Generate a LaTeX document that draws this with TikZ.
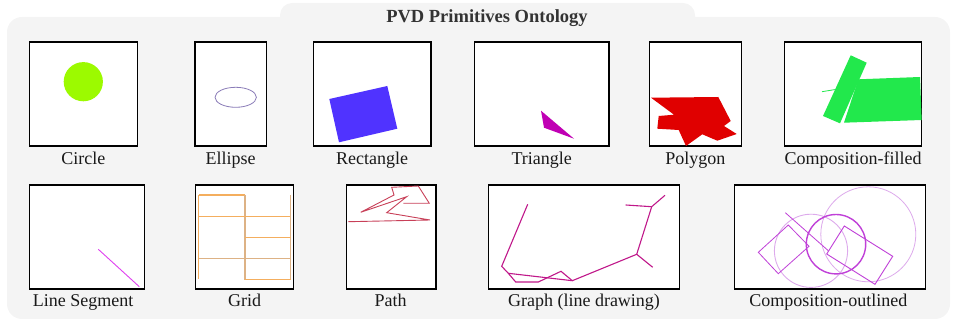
\documentclass[tikz,border=0pt]{standalone}
\usepackage{fontspec}
\setmainfont{Liberation Serif}
\definecolor{panelgray}{HTML}{F4F4F4}
\definecolor{titlegray}{HTML}{333333}
\definecolor{limec}{HTML}{9CFA00}
\definecolor{ellc}{HTML}{8A7CB8}
\definecolor{rectc}{HTML}{5033FF}
\definecolor{tric}{HTML}{C000B4}
\definecolor{polyc}{HTML}{E00000}
\definecolor{greenc}{HTML}{22E84C}
\definecolor{segc}{HTML}{E040F0}
\definecolor{pathc}{HTML}{C84058}
\definecolor{graphc}{HTML}{C0188A}
\definecolor{gridorange}{HTML}{F4AE5E}
\definecolor{gridtan}{HTML}{DDB285}
\definecolor{compc}{HTML}{C040D8}
\definecolor{faintc}{HTML}{DDAAEC}
\tikzset{
  framebox/.style={draw=black, line width=1.2pt, fill=white, inner sep=0pt},
  caption/.style={anchor=base, font=\fontsize{18}{20}\selectfont, text=black!90, inner sep=0pt},
  titletext/.style={anchor=base, font=\fontsize{18.5}{20}\selectfont\bfseries, text=titlegray, inner sep=0pt},
  gridline/.style={line width=1.5pt},
}
\newcommand{\framebx}[5]{% name, x1,y1,x2,y2
  \node[framebox, minimum width={(#4-#2)*1pt}, minimum height={(#5-#3)*1pt}] (#1) at ({(#2+#4)/2},{(#3+#5)/2}) {};}
\begin{document}
\begin{tikzpicture}[x=1pt,y=-1pt]
\useasboundingbox (0,0) rectangle (953,320);
% background panel with tab
\fill[panelgray, rounded corners=15pt] (7,17) rectangle (950,319);
\fill[panelgray, rounded corners=12pt] (280,3) rectangle (695,40);
\node[titletext] (title) at (487,22.7) {PVD Primitives Ontology};

% ---- row 1 ----
\framebx{bcircle}{29.3}{42}{137.3}{146}
\framebx{bellipse}{195}{42}{266.3}{146}
\framebx{brect}{313.3}{42}{431}{146}
\framebx{btri}{474.3}{42}{609}{146}
\framebx{bpoly}{649.3}{42}{741.3}{146}
\framebx{bcompf}{784.3}{42}{921.7}{146}

\fill[limec] (83.3,81.7) circle (19.6);
\draw[ellc, line width=0.8pt] (235.7,97.3) ellipse [x radius=20.7, y radius=10];
\fill[rectc] (329.3,99) -- (387.3,86) -- (397.3,128.7) -- (339,142.3) -- cycle;
\fill[tric] (541,110.7) -- (544,127.7) -- (574,138.7) -- cycle;
\fill[polyc] (651,97.7) -- (718.3,97) -- (730.7,121) -- (724,126) -- (736.7,134)
  -- (717.3,140.7) -- (702.3,134.3) -- (686,146) -- (678.7,130) -- (657.3,128.7)
  -- (658.7,116) -- (674,114.7) -- cycle;
\fill[greenc] (850.7,55.3) -- (866.7,62.7) -- (840,123.3) -- (823,116) -- cycle;
\fill[greenc] (858.3,79.3) -- (920,77) -- (921.7,120) -- (844,122.7) -- cycle;
\draw[greenc, line width=0.8pt] (822,91.7) -- (836.7,89.3);

\node[caption] (lcircle) at (83.3,165) {Circle};
\node[caption] (lellipse) at (230.7,165) {Ellipse};
\node[caption] (lrect) at (372,165) {Rectangle};
\node[caption] (ltri) at (541.7,165) {Triangle};
\node[caption] (lpoly) at (695.3,165) {Polygon};
\node[caption] (lcompf) at (853,165) {Composition-filled};

% ---- row 2 ----
\framebx{bseg}{29.3}{185}{144.3}{289}
\framebx{bgrid}{195.3}{185}{293.3}{289}
\framebx{bpath}{346.7}{185}{436}{289}
\framebx{bgraph}{488.3}{185}{679.3}{289}
\framebx{bcompo}{734.3}{185}{925.7}{289}

\draw[segc, line width=0.9pt] (98.3,249.3) -- (139.3,286.7);

\draw[gridline, draw=gridorange] (198.7,195) -- (198.7,279.3);
\draw[gridline, draw=gridorange] (198.7,195) -- (245,195);
\draw[gridline, draw=gridtan] (245,195) -- (245,280);
\draw[gridline, draw=gridorange] (198.7,216.3) -- (290.7,216.3);
\draw[gridline, draw=gridtan] (290.7,195) -- (290.7,280);
\draw[gridline, draw=gridorange] (245,237.3) -- (290.7,237.3);
\draw[gridline, draw=gridtan] (198.7,258.3) -- (290.7,258.3);
\draw[gridline, draw=gridorange] (245,279.7) -- (290.7,279.7);

\draw[pathc, line width=0.9pt] (403.3,203.3) -- (429.3,203.3) -- (418.3,186) -- (391.7,187.3)
  -- (394,195) -- (360.7,212.3) -- (406.7,196.7) -- (386.7,212.7) -- (430,220) -- (348.3,221.7);

\begin{scope}[graphc, line width=1.1pt]
\coordinate (gA) at (527.7,204.3);
\coordinate (gB) at (501.7,266.3);
\coordinate (gC) at (508.3,273.3);
\coordinate (gD) at (515.7,282);
\coordinate (gE) at (538.3,282);
\coordinate (gF) at (561,271.3);
\coordinate (gG) at (572.3,280.7);
\coordinate (gH) at (636.7,254.3);
\coordinate (gI) at (652.7,267.3);
\coordinate (gJ) at (651.7,206.7);
\coordinate (gK) at (665,195.3);
\coordinate (gL) at (625.7,205);
\draw (gA) -- (gB) -- (gC) -- (gD) -- (gE) -- (gF) -- (gG) -- (gH) -- (gJ) -- (gK);
\draw (gC) -- (gG);
\draw (gH) -- (gI);
\draw (gJ) -- (gL);
\end{scope}

\draw[faintc, line width=0.8pt] (868.3,234.3) circle (47.5);
\draw[faintc, line width=0.9pt] (811,250.8) circle (36.6);
\draw[compc, line width=1.4pt] (836,244.2) circle (29.7);
\draw[compc, line width=0.8pt] (758.3,252.3) -- (788.3,225) -- (809,246.3) -- (778.3,273.7) -- cycle;
\draw[compc, line width=0.9pt] (844.3,226) -- (892.7,256.3) -- (875,284.3) -- (826.7,254) -- cycle;
\draw[compc, line width=0.8pt] (785.3,212.7) -- (828.3,250.7);

\node[caption] (lseg) at (83,307) {Line Segment};
\node[caption] (lgrid) at (244.7,307) {Grid};
\node[caption] (lpath) at (390.5,307) {Path};
\node[caption] (lgraph) at (584,307) {Graph (line drawing)};
\node[caption] (lcompo) at (828.3,307) {Composition-outlined};
\end{tikzpicture}
\end{document}
